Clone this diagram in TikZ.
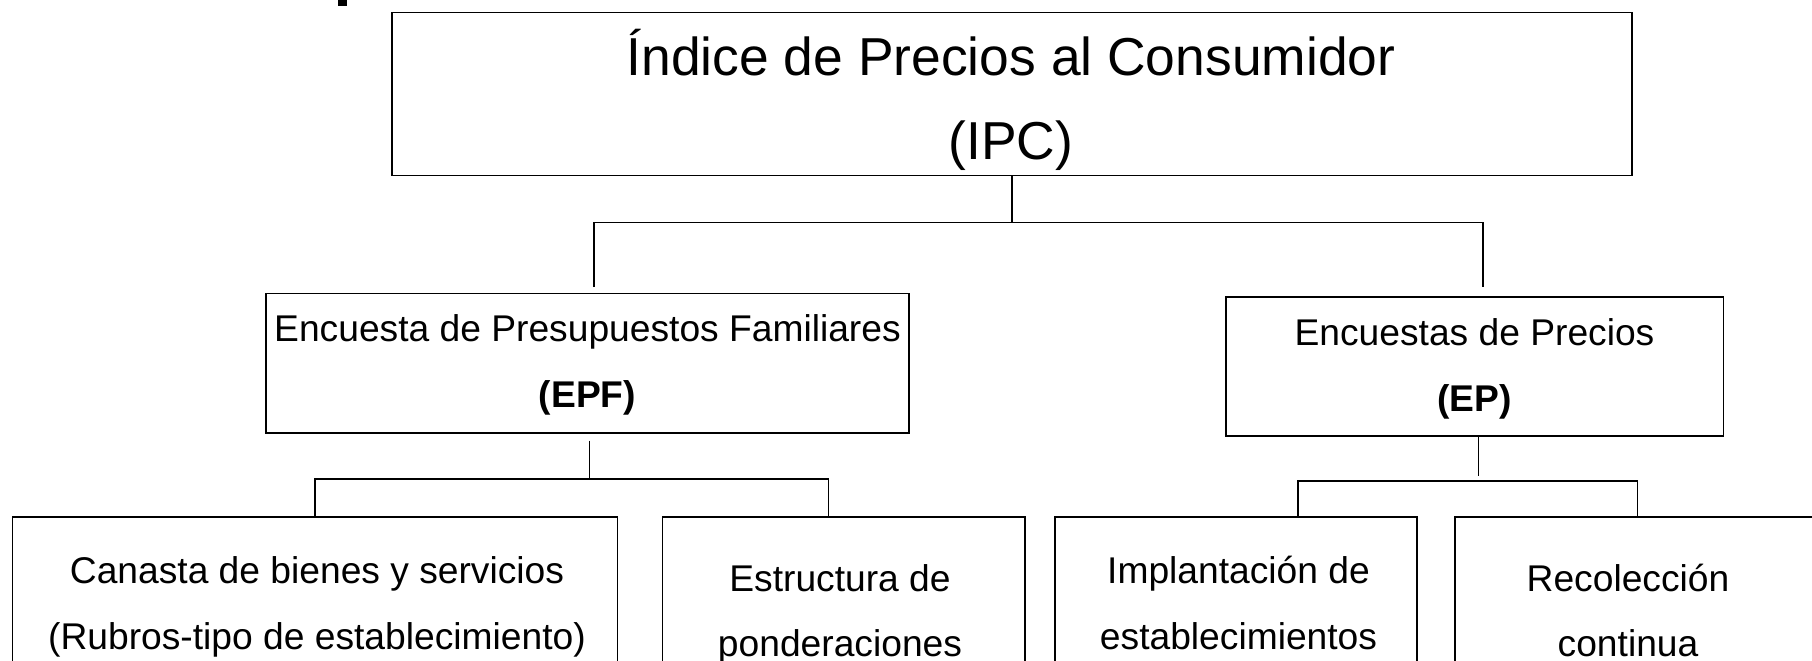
\documentclass[tikz,border=0pt]{standalone}
\usepackage{fontspec}
\setmainfont{Liberation Sans}
\begin{document}
\begin{tikzpicture}[x=1pt,y=-1pt,
  box/.style={draw,line width=1.5pt,inner sep=0pt},
  conn/.style={line width=1.5pt},
  big/.style={font=\fontsize{53.4}{64}\selectfont,anchor=base,inner sep=0pt},
  mid/.style={font=\fontsize{37.2}{44}\selectfont,anchor=base,inner sep=0pt}]
\clip (0,0) rectangle (1812,661);
\fill[white] (0,0) rectangle (1812,661);
% remnant of a cut-off glyph at the top edge
\fill (338,-2) rectangle (347,6);
% boxes
\node[box,minimum width=1240pt,minimum height=163pt] (ipc) at (1012,94) {};
\node[box,minimum width=643pt,minimum height=139.5pt] (epf) at (587.5,363.25) {};
\node[box,minimum width=497.5pt,minimum height=139pt] (ep) at (1474.75,366.5) {};
\node[box,minimum width=604.8pt,minimum height=203pt] (c1) at (315.1,618.5) {};
\node[box,minimum width=362.5pt,minimum height=203pt] (c2) at (843.75,618.5) {};
\node[box,minimum width=362pt,minimum height=203pt] (c3) at (1236,618.5) {};
\node[box,minimum width=395pt,minimum height=203pt] (c4) at (1652.5,618.5) {};
% texts
\node[big] (t1) at (1011,76) {Índice de Precios al Consumidor};
\node[big] (t2) at (1011,159.5) {(IPC)};
\node[mid] (t3) at (587.5,341) {Encuesta de Presupuestos Familiares};
\node[mid,font=\fontsize{37.2}{44}\selectfont\bfseries] (t4) at (587.5,407) {(EPF)};
\node[mid] (t5) at (1474.5,345) {Encuestas de Precios};
\node[mid,font=\fontsize{37.2}{44}\selectfont\bfseries] (t6) at (1474.5,411) {(EP)};
\node[mid] (t7) at (317,583) {Canasta de bienes y servicios};
\node[mid] (t8) at (317,649) {(Rubros-tipo de establecimiento)};
\node[mid] (t9) at (840,591) {Estructura de};
\node[mid] (t10) at (840,656) {ponderaciones};
\node[mid] (t11) at (1238.5,583) {Implantación de};
\node[mid] (t12) at (1238.5,649) {establecimientos};
\node[mid] (t13) at (1628,591) {Recolección};
\node[mid] (t14) at (1628,656) {continua};
% connector coordinates
\coordinate (j0) at (1012,222.5);
\coordinate (l1) at (594,287);
\coordinate (r1) at (1483,287);
\coordinate (e0) at (589.5,440.5);
\coordinate (e1) at (589.5,479);
\coordinate (p0) at (1478.5,437);
\coordinate (p1) at (1478.5,476);
% connectors
\draw[conn] (ipc.south) -- (j0);
\draw[conn] (l1) -- (l1 |- j0) -- (r1 |- j0) -- (r1);
\draw[conn] (e0) -- (e1);
\draw[conn] (c1.north) -- (c1.north |- e1) -- (828.5,479) coordinate (e2) -- (e2 |- c2.north);
\draw[conn] (p0) -- (p1);
\draw[conn] (1298,517) coordinate (p2) -- (1298,481) -- (1637.5,481) coordinate (p3) -- (p3 |- c4.north);
\end{tikzpicture}
\end{document}
